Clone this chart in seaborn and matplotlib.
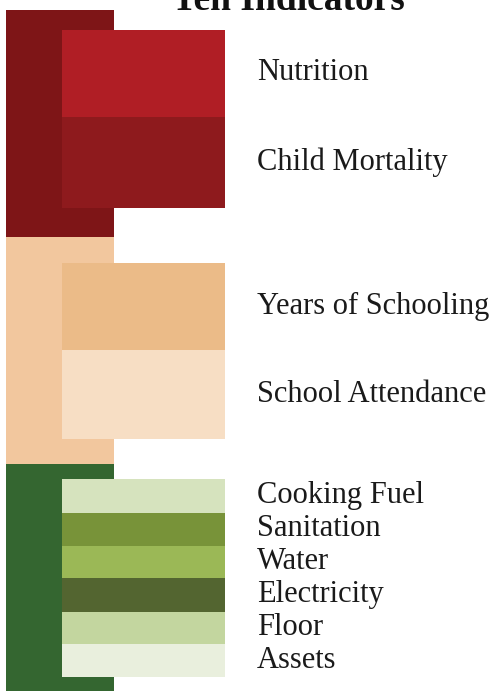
"""Ten indicators of the MPI: dimension blocks with their indicator bars."""
import numpy as np
import matplotlib
matplotlib.use("Agg")
import matplotlib.pyplot as plt
import seaborn as sns

# ------------------------------------------------------------------ #
#  Data                                                               #
# ------------------------------------------------------------------ #
dimensions = ["Health", "Education", "Living Standards"]
indicators = ["Nutrition", "Child Mortality",
              "Years of Schooling", "School Attendance",
              "Cooking Fuel", "Sanitation", "Water",
              "Electricity", "Floor", "Assets"]
indicator_dim = [0, 0, 1, 1, 2, 2, 2, 2, 2, 2]
# drawn band height of each indicator
indicator_span = [87, 91, 87, 89, 34, 33, 32, 34, 32, 33]

# ------------------------------------------------------------------ #
#  Style                                                              #
# ------------------------------------------------------------------ #
dim_colors = ["#7E1517", "#F2C79E", "#346630"]
ind_colors = ["#B01E25", "#8E1A1D",
              "#EBBB88", "#F7DEC4",
              "#D6E3BE", "#789339", "#9BB856",
              "#536530", "#C3D69F", "#E9EFDD"]

TOP, DIM_H = 10, 227          # block layout in figure pixels
DIM_X, DIM_W = 6, 108
IND_X, IND_W = 62, 163
LABEL_X = 257
BLOCK_SHIFT = [-5, 0, 0]      # nudge of each indicator block inside its dimension

sns.set_theme(style="white")
plt.rcParams["font.family"] = ["Liberation Serif", "DejaVu Serif"]

fig = plt.figure(figsize=(4.99, 6.92), dpi=100)
ax = fig.add_axes([0, 0, 1, 1])
ax.set_xlim(0, 499)
ax.set_ylim(692, 0)
ax.axis("off")

dim_top = TOP + DIM_H * np.arange(len(dimensions))
ax.barh(dim_top, [DIM_W] * len(dimensions), height=DIM_H, left=DIM_X,
        align="edge", color=dim_colors, linewidth=0)

span = np.array(indicator_span, dtype=float)
dims = np.array(indicator_dim)
for d in range(len(dimensions)):
    idx = np.where(dims == d)[0]
    block = span[idx].sum()
    start = dim_top[d] + (DIM_H - block) / 2 + BLOCK_SHIFT[d]
    tops = start + np.concatenate([[0], np.cumsum(span[idx])[:-1]])
    ax.barh(tops, [IND_W] * len(idx), height=span[idx], left=IND_X,
            align="edge", color=[ind_colors[i] for i in idx], linewidth=0)
    for t, i in zip(tops, idx):
        ax.text(LABEL_X, t + span[i] / 2, indicators[i], fontsize=22,
                va="center", ha="left", color="#1a1a1a")

# title sits mostly above the frame, as in the source
ax.text(288, 10, "Ten Indicators", fontsize=27, fontweight="bold",
        ha="center", va="baseline", color="#111111")

fig.savefig("out.png", dpi=100)
plt.close(fig)
